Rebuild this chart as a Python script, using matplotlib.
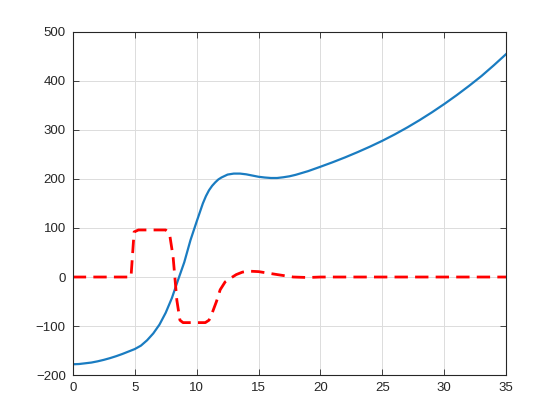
import matplotlib
matplotlib.use("Agg")
import matplotlib.pyplot as plt

# values
t_pos = [0, 0.5, 1, 1.5, 2, 2.5, 3, 3.5, 4, 4.5, 5, 5.5, 6, 6.5, 7, 7.5, 8, 8.5, 9,
         9.5, 10, 10.5, 10.75, 11, 11.25, 11.5, 11.75, 12, 12.5, 13, 13.5, 14, 14.5,
         15, 15.5, 16, 16.5, 17, 17.5, 18, 19, 20, 21, 22, 23, 24, 25, 26, 27, 28, 29,
         30, 31, 32, 33, 34, 35]
pos = [-178, -177.5, -176, -174.5, -172, -169, -165.5, -161.5, -157, -152, -147, -140,
       -129, -115, -97, -73, -43, -6, 30, 75, 113, 150, 165, 177, 186, 193, 199, 203,
       209, 211, 211, 209.5, 207, 204.5, 203, 202, 202, 203.5, 205.5, 208.5, 216, 225,
       234.3, 244.2, 254.8, 266, 278, 291, 305, 320, 336, 353, 371, 390, 410, 432, 455]

t_ctl = [0, 4.7, 4.95, 5.3, 7.5, 7.7, 7.85, 8.1, 8.4, 8.65, 8.9, 10.7, 11.0, 11.2,
         11.6, 11.9, 12.3, 12.7, 13.2, 13.7, 14.2, 15, 16.5, 17.8, 19, 20, 35]
ctl = [0, 0, 92, 96, 96, 92, 82, 41, -47, -88, -93, -93, -88, -77, -50, -26, -10,
       -3, 5, 10, 12, 11, 5, 0, -1, 0, 0]

fig = plt.figure(figsize=(5.6, 4.2), dpi=100)
ax = fig.add_axes([0.13, 0.107, 0.774, 0.817])

ax.plot(t_pos, pos, color="#1a7cc1", linewidth=1.6)
ax.plot(t_ctl, ctl, color="#FF0000", linewidth=2.0, linestyle=(0, (4.8, 2.6)))

ax.set_xlim(0, 35)
ax.set_ylim(-200, 500)
ax.set_xticks(range(0, 36, 5))
ax.set_yticks(range(-200, 501, 100))
ax.grid(True, color="#dcdcdc", linewidth=0.7)
ax.set_axisbelow(True)
ax.tick_params(direction="in", top=True, right=True, length=4, width=0.6,
               colors="#262626", labelsize=9.5, pad=5)
for s in ax.spines.values():
    s.set_color("#262626")
    s.set_linewidth(0.8)
for lbl in ax.get_xticklabels() + ax.get_yticklabels():
    lbl.set_fontfamily("Liberation Sans")

fig.savefig("out.png", dpi=100)
